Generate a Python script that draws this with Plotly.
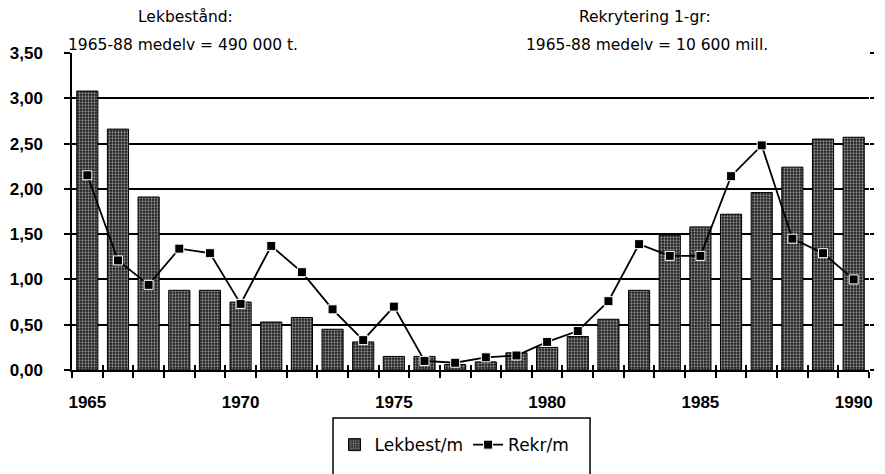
"""Lekbestånd och rekrytering 1965-1990, relativt medelvärdet 1965-88."""

import plotly.graph_objects as go

# ---------------------------------------------------------------------------
# Data
# ---------------------------------------------------------------------------

years = list(range(1965, 1991))

lekbest = [3.08, 2.66, 1.91, 0.88, 0.88, 0.75, 0.53, 0.58, 0.45, 0.31,
           0.15, 0.15, 0.06, 0.09, 0.19, 0.25, 0.37, 0.56, 0.88, 1.49,
           1.58, 1.72, 1.96, 2.24, 2.55, 2.57]

rekr = [2.15, 1.21, 0.94, 1.34, 1.29, 0.73, 1.37, 1.08, 0.67, 0.33,
        0.70, 0.10, 0.08, 0.14, 0.16, 0.31, 0.43, 0.76, 1.39, 1.26,
        1.26, 2.14, 2.48, 1.45, 1.29, 1.00]

year_labels = [1965, 1970, 1975, 1980, 1985, 1990]

TICK_FONT = "Liberation Sans, Arial, sans-serif"
TEXT_FONT = "DejaVu Sans, sans-serif"
X_RANGE = [1964.5, 1990.5]
Y_RANGE = [0, 3.5001]

# tick marks sit between the yearly categories
boundaries = [y - 0.5 for y in years] + [years[-1] + 0.5]

fig = go.Figure()

fig.add_trace(go.Bar(
    x=years, y=lekbest, name="Lekbest/m",
    width=0.69,
    marker=dict(
        color="#1a1a1a",
        line=dict(color="black", width=1),
        pattern=dict(shape=".", fgcolor="white", bgcolor="#1a1a1a",
                     size=3, solidity=0.45),
    ),
))

# line on the overlay axes (x2/y2): x2 carries the year labels, y2 the
# small ticks on the right edge
fig.add_trace(go.Scatter(
    x=years, y=rekr, name="Rekr/m", xaxis="x2", yaxis="y2",
    mode="lines+markers",
    line=dict(color="black", width=1.8),
    marker=dict(symbol="square", size=9, color="black",
                line=dict(color="white", width=1)),
))

# empty trace so that x3 (inward half of the x ticks) gets drawn
fig.add_trace(go.Scatter(x=[], y=[], xaxis="x3", yaxis="y2",
                         showlegend=False, hoverinfo="skip"))

# headings above the plot
headings = [
    (0.142, 1.1136, "Lekbestånd:"),
    (0.139, 1.025, "1965-88 medelv = 490 000 t."),
    (0.719, 1.1136, "Rekrytering 1-gr:"),
    (0.721, 1.025, "1965-88 medelv = 10 600 mill."),
]
for hx, hy, txt in headings:
    fig.add_annotation(x=hx, y=hy, xref="paper", yref="paper",
                       xanchor="center", yanchor="middle",
                       text=txt, showarrow=False,
                       font=dict(size=15.5, family=TEXT_FONT, color="black"))

# legend frame (larger than plotly's own legend border)
fig.add_shape(type="rect", xref="paper", yref="paper",
              x0=0.3275, x1=0.650, y0=-0.1514, y1=-0.36,
              line=dict(color="black", width=1.5), fillcolor="rgba(0,0,0,0)")

fig.update_layout(
    width=885, height=474,
    margin=dict(l=72, r=16, t=53, b=104, autoexpand=False),
    paper_bgcolor="white", plot_bgcolor="white",
    separators=", ",
    font=dict(family=TEXT_FONT, color="black"),
    legend=dict(
        orientation="h", x=0.48, xanchor="center",
        yref="container", y=0.061, yanchor="middle",
        font=dict(size=17, family=TEXT_FONT, color="black"),
        itemwidth=30, bgcolor="rgba(0,0,0,0)",
    ),
    xaxis=dict(
        range=X_RANGE,
        tickvals=boundaries,
        showticklabels=False,
        ticks="outside", ticklen=6, tickcolor="black", tickwidth=1.5,
        showgrid=False,
        showline=True, linecolor="black", linewidth=1.5,
    ),
    xaxis2=dict(
        range=X_RANGE, overlaying="x", side="bottom", anchor="y2",
        tickvals=year_labels,
        ticktext=[str(y) for y in year_labels],
        ticks="", ticklabelstandoff=20, automargin=False,
        showgrid=False, zeroline=False, showline=False,
        tickfont=dict(size=17, family=TICK_FONT, color="black", weight="bold"),
    ),
    xaxis3=dict(
        range=X_RANGE, overlaying="x", side="bottom", anchor="y2",
        tickvals=boundaries, showticklabels=False,
        ticks="inside", ticklen=5, tickcolor="black", tickwidth=1.5,
        showgrid=False, zeroline=False, showline=False,
    ),
    yaxis=dict(
        range=Y_RANGE,
        dtick=0.5,
        tickformat=".2f",
        showgrid=True, gridcolor="black", gridwidth=1.5,
        zeroline=False,
        showline=True, linecolor="black", linewidth=1.5,
        ticks="outside", ticklen=6, tickcolor="black", tickwidth=1.5,
        ticklabelstandoff=18,
        tickfont=dict(size=17, family=TICK_FONT, color="black", weight="bold"),
    ),
    yaxis2=dict(
        range=Y_RANGE, dtick=0.5, overlaying="y", side="right",
        showgrid=False, zeroline=False, showline=False,
        showticklabels=False,
        ticks="outside", ticklen=4, tickcolor="black", tickwidth=1.5,
    ),
)

# page body has a default 8px margin; drop it so the chart sits at 0,0
fig.write_html("out.html", config={"displayModeBar": False},
               post_script="document.body.style.margin='0';")
